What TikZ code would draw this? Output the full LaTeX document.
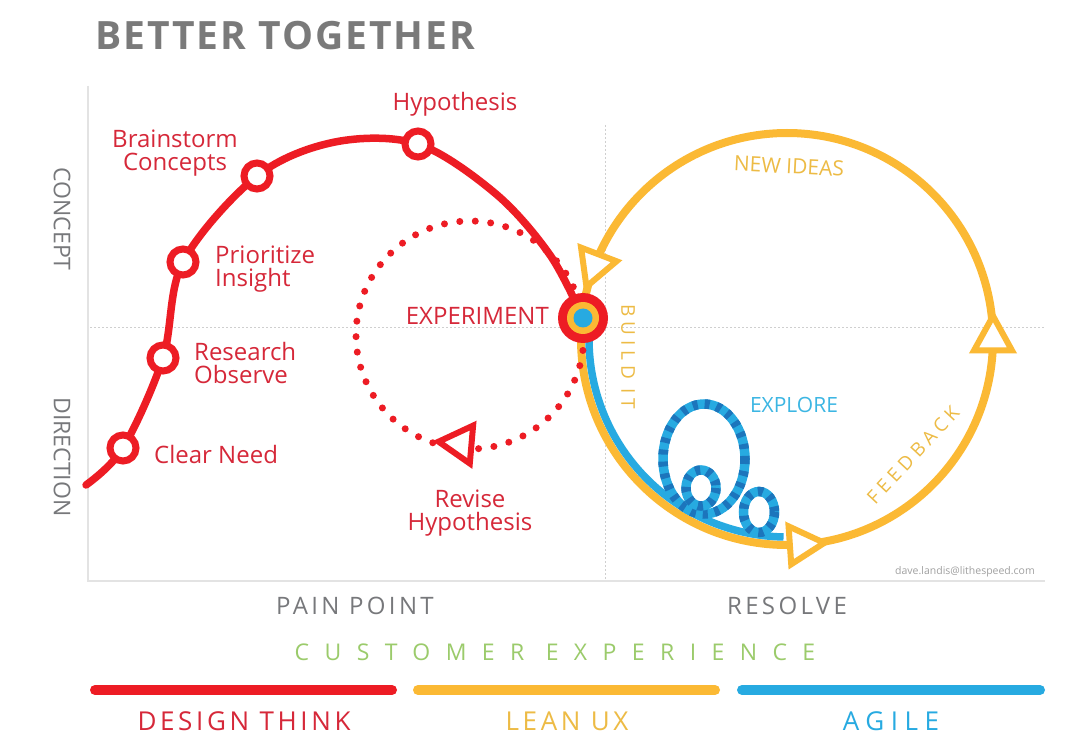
\documentclass[tikz,border=0pt]{standalone}
\usepackage{fontspec}
\setmainfont{Open Sans}
\newfontfamily\fsLab{Open Sans}[LetterSpace=14]
\newfontfamily\fsWide{Open Sans}[LetterSpace=67]
\newfontfamily\fsMid{Open Sans}[LetterSpace=25]
\newfontfamily\fsTitle{Open Sans}[LetterSpace=5]
\usetikzlibrary{calc}
\definecolor{dtred}{HTML}{ED1C24}
\definecolor{txtred}{HTML}{D62839}
\definecolor{lyel}{HTML}{FBB934}
\definecolor{txtyel}{HTML}{EDBB45}
\definecolor{agblue}{HTML}{27AAE1}
\definecolor{dkblue}{HTML}{1C75BC}
\definecolor{explblue}{HTML}{3CB6E3}
\definecolor{cxgreen}{HTML}{9BCB6B}
\definecolor{titlegray}{HTML}{7A7A7A}
\definecolor{axgray}{HTML}{77787B}
\definecolor{framegray}{HTML}{E3E3E3}
\definecolor{dotgray}{HTML}{CFCFCF}
\definecolor{creditgray}{HTML}{A0A0A0}
\newcommand\ytri[1]{%
  \draw[ytristyle] ($(yc)+(#1:206)+(#1-90:23)$) --
    ($(yc)+(#1:206)+(#1+90:11.5)+(#1:19)$) --
    ($(yc)+(#1:206)+(#1+90:11.5)+(#1+180:19)$) -- cycle;}
\begin{document}
\begin{tikzpicture}[x=1pt,y=-1pt,
  redline/.style={draw=dtred,line width=7.5pt,line cap=round,line join=round},
  stepdot/.style={circle,draw=dtred,fill=white,line width=7pt,minimum size=26pt,inner sep=0pt},
  lbl/.style={text=txtred,font=\fontsize{24}{23}\selectfont,inner sep=0pt},
  yelline/.style={draw=lyel,line width=8pt},
  ytristyle/.style={draw=lyel,fill=white,line width=6pt,line join=miter},
  rtristyle/.style={draw=dtred,fill=white,line width=6pt,line join=miter},
  loopbase/.style={draw=agblue,line width=9.5pt},
  loopdash/.style={draw=dkblue,line width=9.5pt,dash pattern=on 5pt off 7pt},
  axlbl/.style={text=axgray,font=\fsLab\fontsize{24}{24}\selectfont,inner sep=0pt},
  vlbl/.style={text=axgray,font=\fontsize{23}{23}\selectfont,inner sep=0pt},
  bar/.style={line width=10pt,line cap=round},
]
\fill[white] (0,0) rectangle (1080,754);
\useasboundingbox (0,0) rectangle (1080,754);

% title
\node[anchor=base west,inner sep=0pt,text=titlegray,font=\fsTitle\bfseries\fontsize{39}{39}\selectfont] (title) at (95,50) {BETTER TOGETHER};

% frame
\coordinate (fTop) at (88,86);
\coordinate (fCorner) at (88,581);
\coordinate (fRight) at (1045,581);
\draw[framegray,line width=2pt] (fTop) -- (fCorner) -- (fRight);
\coordinate (hL) at (90,328);
\coordinate (hR) at (1045,328);
\coordinate (vT) at (605,125);
\coordinate (vB) at (605,579);
\draw[dotgray,line width=1pt,dash pattern=on 2pt off 2pt] (hL) -- (hR);
\draw[dotgray,line width=1pt,dash pattern=on 2pt off 2pt] (vT) -- (vB);

% axis labels
\node[vlbl,rotate=-90] (concept) at (62,219) {CONCEPT};
\node[vlbl,rotate=-90] (direction) at (62,457) {DIRECTION};
\node[axlbl,anchor=base] (pain) at (355,614) {PAIN POINT};
\node[axlbl,anchor=base] (resolve) at (787,614) {RESOLVE};
\node[anchor=base,inner sep=0pt,text=cxgreen,font=\fsWide\fontsize{23}{23}\selectfont] (cx) at (555,660) {CUSTOMER EXPERIENCE};

% bottom bars
\coordinate (rb1) at (95,690); \coordinate (rb2) at (392,690);
\coordinate (yb1) at (418,690); \coordinate (yb2) at (715,690);
\coordinate (bb1) at (742,690); \coordinate (bb2) at (1040,690);
\draw[bar,dtred] (rb1) -- (rb2);
\draw[bar,lyel] (yb1) -- (yb2);
\draw[bar,agblue] (bb1) -- (bb2);
\node[anchor=base,inner sep=0pt,text=txtred,font=\fsLab\fontsize{26}{26}\selectfont] (dt) at (244,730) {DESIGN THINK};
\node[anchor=base,inner sep=0pt,text=txtyel,font=\fsLab\fontsize{26}{26}\selectfont] (lux) at (567,730) {LEAN UX};
\node[anchor=base,inner sep=0pt,text=agblue,font=\fsMid\fontsize{26}{26}\selectfont] (ag) at (891,730) {AGILE};

% credit
\node[anchor=base east,inner sep=0pt,text=creditgray,font=\fontsize{10.5}{10.5}\selectfont] (credit) at (1035,574) {dave.landis@lithespeed.com};

% yellow loop
\coordinate (yc) at (787,339);
\draw[yelline] (yc) circle (206);
% blue build path
\draw[draw=agblue,line width=7.5pt] ($(yc)+(184:198)$) arc[start angle=184,end angle=91,radius=198];
% explore loops
\coordinate (l1) at (704,459);
\coordinate (l2) at (701,488);
\coordinate (l3) at (759,512);
\draw[loopbase] (l1) ellipse[x radius=41,y radius=55];
\draw[loopdash] (l1) ellipse[x radius=41,y radius=55];
\draw[loopbase] (l2) ellipse[x radius=15,y radius=18];
\draw[loopdash] (l2) ellipse[x radius=15,y radius=18];
\draw[loopbase] (l3) ellipse[x radius=15.5,y radius=20.5];
\draw[loopdash] (l3) ellipse[x radius=15.5,y radius=20.5];
% yellow arrowheads
\ytri{201}
\ytri{86}
\ytri{0}
\node[text=txtyel,font=\fontsize{21}{21}\selectfont,inner sep=0pt,rotate=-3] (newideas) at (789,166) {NEW IDEAS};
\node[text=txtyel,font=\fsMid\fontsize{19}{19}\selectfont,inner sep=0pt,rotate=-90] (buildit) at (628,357) {BUILD IT};
\node[text=txtyel,font=\fsMid\fontsize{19}{19}\selectfont,inner sep=0pt,rotate=47] (feedback) at (913,455) {FEEDBACK};
\node[text=explblue,font=\fontsize{21}{21}\selectfont,inner sep=0pt] (explore) at (794,405) {EXPLORE};

% dotted revise loop
\coordinate (dc) at (470,335);
\draw[dtred,line width=7pt,line cap=round,dash pattern=on 0pt off 15.5pt] (dc) circle (114);
\draw[rtristyle] ($(dc)+(95:109)+(185:22)$) -- ($(dc)+(95:109)+(5:11)+(95:19)$) -- ($(dc)+(95:109)+(5:11)+(-85:19)$) -- cycle;

% red design-thinking curve
\coordinate (pS) at (86,485);
\coordinate (pCN) at (123,448);
\coordinate (pRO) at (163,358);
\coordinate (pPI) at (183,262);
\coordinate (pBC) at (257,176);
\coordinate (pTop) at (335,142);
\coordinate (pHY) at (418,144);
\coordinate (pM1) at (496,194);
\coordinate (pM2) at (550,255);
\coordinate (pEX) at (583,318);
\draw[redline] plot[smooth,tension=0.55] coordinates {(pS) (pCN) (pRO) (pPI) (pBC) (pTop) (pHY) (pM1) (pM2) (pEX)};
\node[stepdot] (cn) at (pCN) {};
\node[stepdot] (ro) at (pRO) {};
\node[stepdot] (pi) at (pPI) {};
\node[stepdot] (bc) at (pBC) {};
\node[stepdot] (hy) at (pHY) {};
\node[circle,fill=dtred,minimum size=50pt,inner sep=0pt] (ex) at (pEX) {};
\node[circle,fill=lyel,minimum size=32pt,inner sep=0pt] (exy) at (ex.center) {};
\node[circle,fill=agblue,minimum size=19pt,inner sep=0pt] (exb) at (ex.center) {};

% red labels
\node[lbl] (tHY) at (455,104) {Hypothesis};
\node[lbl,align=center] (tBC) at (175,153) {Brainstorm\\Concepts};
\node[lbl,align=left,anchor=west] (tPI) at (215,269) {Prioritize\\Insight};
\node[lbl,align=left,anchor=west] (tRO) at (194,363) {Research\\Observe};
\node[lbl,anchor=west] (tCN) at (154,454) {Clear Need};
\node[lbl,anchor=east] (tEX) at (549,316) {EXPERIMENT};
\node[lbl,align=center] (tRV) at (470,513) {Revise\\Hypothesis};
\end{tikzpicture}
\end{document}
